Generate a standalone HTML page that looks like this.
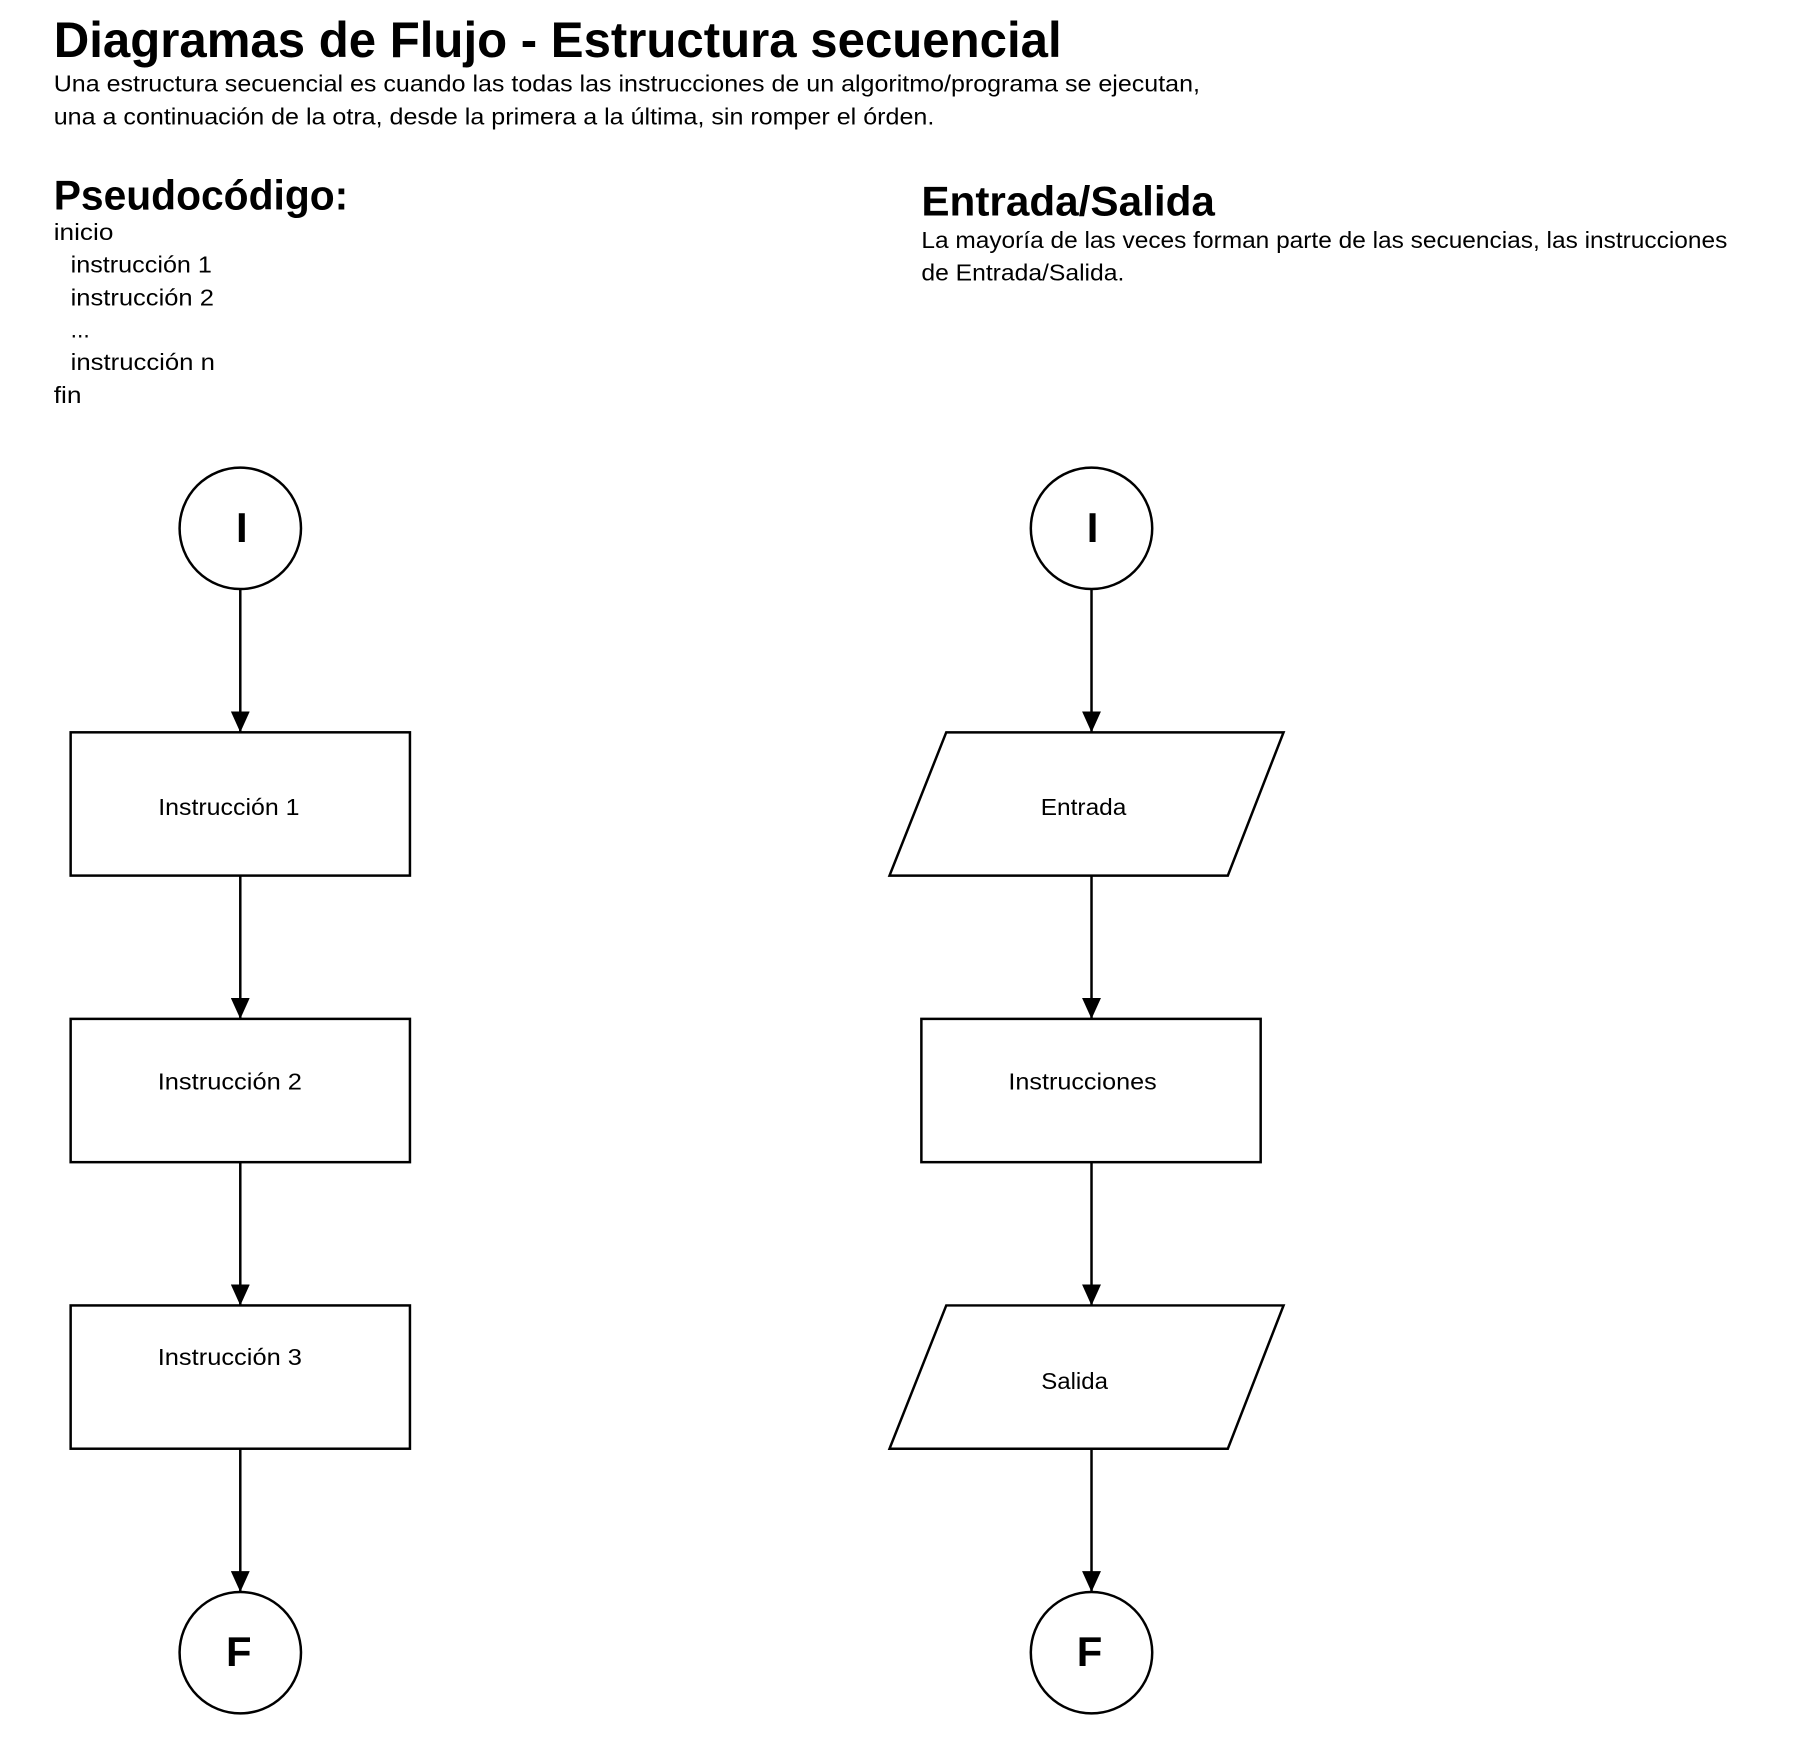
<!DOCTYPE html>
<html><head><meta charset="utf-8"><style>html,body{margin:0;padding:0;background:#fff}</style></head>
<body>
<svg width="1820" height="1752" viewBox="0 0 1820 1752" xmlns="http://www.w3.org/2000/svg" font-family="Liberation Sans, sans-serif">
<defs><marker id="a" markerWidth="21" markerHeight="19" refX="21" refY="9.5" orient="auto" markerUnits="userSpaceOnUse" viewBox="0 0 21 19"><path d="M0,0 L21,9.5 L0,19 z" fill="#000"/></marker></defs>
<g transform="scale(0.995)">
<g dominant-baseline="central" fill="#000">
<text x="54" y="40" font-size="50" font-weight="bold" textLength="1013" lengthAdjust="spacingAndGlyphs">Diagramas de Flujo - Estructura secuencial</text>
<text x="54" y="84" font-size="23" textLength="1152" lengthAdjust="spacingAndGlyphs">Una estructura secuencial es cuando las todas las instrucciones de un algoritmo/programa se ejecutan,</text>
<text x="54" y="117" font-size="23" textLength="885" lengthAdjust="spacingAndGlyphs">una a continuación de la otra, desde la primera a la última, sin romper el órden.</text>
<text x="54" y="196" font-size="42" font-weight="bold" textLength="296" lengthAdjust="spacingAndGlyphs">Pseudocódigo:</text>
<text x="54" y="233" font-size="23" textLength="60" lengthAdjust="spacingAndGlyphs">inicio</text>
<text x="71" y="266" font-size="23" textLength="142" lengthAdjust="spacingAndGlyphs">instrucción 1</text>
<text x="71" y="299" font-size="23" textLength="144" lengthAdjust="spacingAndGlyphs">instrucción 2</text>
<text x="71" y="331" font-size="23">...</text>
<text x="71" y="364" font-size="23" textLength="145" lengthAdjust="spacingAndGlyphs">instrucción n</text>
<text x="54" y="397" font-size="23" textLength="28" lengthAdjust="spacingAndGlyphs">fin</text>
<text x="926" y="202" font-size="42" font-weight="bold" textLength="295" lengthAdjust="spacingAndGlyphs">Entrada/Salida</text>
<text x="926" y="241" font-size="23" textLength="810" lengthAdjust="spacingAndGlyphs">La mayoría de las veces forman parte de las secuencias, las instrucciones</text>
<text x="926" y="274" font-size="23" textLength="204" lengthAdjust="spacingAndGlyphs">de Entrada/Salida.</text>
</g>
<g stroke="#000" stroke-width="2.5" fill="none">
<circle cx="241.5" cy="531" r="61"/>
<rect x="71" y="736" width="341" height="144"/>
<rect x="71" y="1024" width="341" height="144"/>
<rect x="71" y="1312" width="341" height="144"/>
<circle cx="241.5" cy="1661" r="61"/>
<line x1="241.5" y1="592" x2="241.5" y2="736" marker-end="url(#a)"/>
<line x1="241.5" y1="880" x2="241.5" y2="1024" marker-end="url(#a)"/>
<line x1="241.5" y1="1168" x2="241.5" y2="1312" marker-end="url(#a)"/>
<line x1="241.5" y1="1456" x2="241.5" y2="1600" marker-end="url(#a)"/>
<circle cx="1097" cy="531" r="61"/>
<polygon points="951,736 1290,736 1234,880 894,880"/>
<rect x="926" y="1024" width="341" height="144"/>
<polygon points="951,1312 1290,1312 1234,1456 894,1456"/>
<circle cx="1097" cy="1661" r="61"/>
<line x1="1097" y1="592" x2="1097" y2="736" marker-end="url(#a)"/>
<line x1="1097" y1="880" x2="1097" y2="1024" marker-end="url(#a)"/>
<line x1="1097" y1="1168" x2="1097" y2="1312" marker-end="url(#a)"/>
<line x1="1097" y1="1456" x2="1097" y2="1600" marker-end="url(#a)"/>
</g>
<g dominant-baseline="central" fill="#000" text-anchor="middle">
<text x="243" y="530" font-size="42" font-weight="bold">I</text>
<text x="1098" y="530" font-size="42" font-weight="bold">I</text>
<text x="240" y="1660" font-size="42" font-weight="bold">F</text>
<text x="1095" y="1660" font-size="42" font-weight="bold">F</text>
<text x="230" y="811" font-size="23" textLength="142" lengthAdjust="spacingAndGlyphs">Instrucción 1</text>
<text x="231" y="1087" font-size="23" textLength="145" lengthAdjust="spacingAndGlyphs">Instrucción 2</text>
<text x="231" y="1364" font-size="23" textLength="145" lengthAdjust="spacingAndGlyphs">Instrucción 3</text>
<text x="1089" y="811" font-size="23" textLength="86" lengthAdjust="spacingAndGlyphs">Entrada</text>
<text x="1088" y="1087" font-size="23" textLength="149" lengthAdjust="spacingAndGlyphs">Instrucciones</text>
<text x="1080" y="1388" font-size="23" textLength="67" lengthAdjust="spacingAndGlyphs">Salida</text>
</g>
</g>
</svg>
</body></html>
